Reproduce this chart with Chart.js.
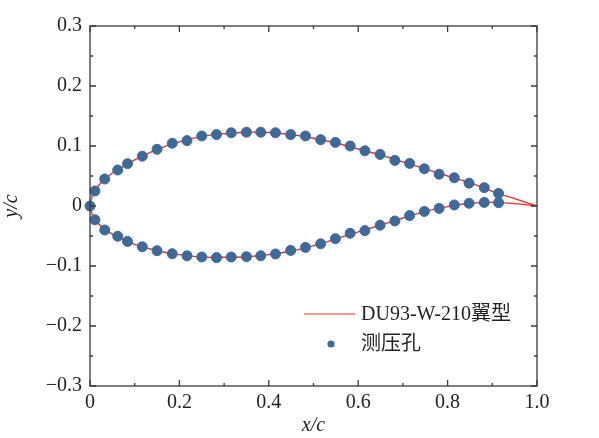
<!DOCTYPE html>
<html>
<head>
<meta charset="utf-8">
<script src="https://cdn.jsdelivr.net/npm/chart.js@4.4.1/dist/chart.umd.min.js"></script>
<style>
html,body{margin:0;padding:0;background:#fff;}
#wrap{width:599px;height:438px;position:relative;}
</style>
</head>
<body>
<div id="wrap"><canvas id="c" width="599" height="438"></canvas></div>
<script>
// ---- data ----
const tapUpperX = [0, 0.011, 0.033, 0.062, 0.084, 0.117, 0.150, 0.184, 0.217, 0.250, 0.283, 0.316, 0.350, 0.382, 0.415, 0.449, 0.482, 0.516, 0.549, 0.582, 0.615, 0.649, 0.682, 0.715, 0.748, 0.781, 0.815, 0.848, 0.882, 0.914];
const tapUpperY = [0, 0.025, 0.045, 0.060, 0.0705, 0.083, 0.0945, 0.1045, 0.109, 0.1167, 0.119, 0.122, 0.123, 0.123, 0.122, 0.119, 0.1167, 0.1105, 0.106, 0.100, 0.092, 0.086, 0.076, 0.071, 0.062, 0.053, 0.047, 0.038, 0.0306, 0.021];
const tapLowerX = [0.011, 0.033, 0.062, 0.084, 0.117, 0.150, 0.184, 0.217, 0.250, 0.283, 0.316, 0.350, 0.382, 0.415, 0.449, 0.482, 0.516, 0.549, 0.582, 0.615, 0.649, 0.682, 0.715, 0.748, 0.781, 0.815, 0.848, 0.882, 0.914];
const tapLowerY = [-0.023, -0.040, -0.0505, -0.059, -0.068, -0.0745, -0.0795, -0.083, -0.085, -0.086, -0.085, -0.0845, -0.083, -0.080, -0.074, -0.069, -0.063, -0.0545, -0.0455, -0.041, -0.032, -0.025, -0.016, -0.009, -0.004, 0.0017, 0.0045, 0.006, 0.0055];

const foilX = [0, 0.005, 0.0125, 0.025, 0.05, 0.075, 0.1, 0.15, 0.2, 0.25, 0.3, 0.35, 0.4, 0.45, 0.5, 0.55, 0.6, 0.65, 0.7, 0.75, 0.8, 0.85, 0.9, 0.95, 1.0];
const foilUpperY = [0, 0.017, 0.027, 0.039, 0.055, 0.066, 0.077, 0.0945, 0.107, 0.116, 0.1205, 0.123, 0.1225, 0.119, 0.113, 0.105, 0.095, 0.085, 0.0735, 0.062, 0.050, 0.0385, 0.0245, 0.0122, 0];
const foilLowerY = [0, -0.014, -0.023, -0.034, -0.047, -0.056, -0.064, -0.0745, -0.081, -0.085, -0.0855, -0.0845, -0.081, -0.075, -0.066, -0.055, -0.043, -0.032, -0.020, -0.009, -0.001, 0.0045, 0.006, 0.004, 0];

const xTickValues = [0, 0.2, 0.4, 0.6, 0.8, 1.0];
const xTickLabels = ['0', '0.2', '0.4', '0.6', '0.8', '1.0'];
const xMinorValues = [0.1, 0.3, 0.5, 0.7, 0.9];
const yTickValues = [-0.3, -0.2, -0.1, 0, 0.1, 0.2, 0.3];
const yTickLabels = ['\u22120.3', '\u22120.2', '\u22120.1', '0', '0.1', '0.2', '0.3'];
const yMinorValues = [-0.25, -0.15, -0.05, 0.05, 0.15, 0.25];

const lineLabel = 'DU93-W-210翼型';
const pointLabel = '测压孔';

// ---- styles ----
const RED = '#e8312c';
const BLUE = '#3d6a98';
const TXT = '#231f20';
const FONT = '"Liberation Serif", "Noto Sans CJK SC", serif';
const FS = 20;

const zip = (xs, ys) => xs.map((x, i) => ({x, y: ys[i]}));
const tapPoints = zip(tapUpperX, tapUpperY).concat(zip(tapLowerX, tapLowerY));

const framePlugin = {
  id: 'frame',
  afterDatasetsDraw(chart) {
    const {ctx, chartArea: a, scales: {x, y}} = chart;
    ctx.save();
    ctx.strokeStyle = '#3a3a3a';
    ctx.lineWidth = 1.3;
    ctx.strokeRect(a.left, a.top, a.right - a.left, a.bottom - a.top);
    ctx.beginPath();
    const major = 6, minor = 3;
    xTickValues.forEach(v => { const p = x.getPixelForValue(v);
      ctx.moveTo(p, a.bottom); ctx.lineTo(p, a.bottom - major);
      ctx.moveTo(p, a.top); ctx.lineTo(p, a.top + major); });
    xMinorValues.forEach(v => { const p = x.getPixelForValue(v);
      ctx.moveTo(p, a.bottom); ctx.lineTo(p, a.bottom - minor);
      ctx.moveTo(p, a.top); ctx.lineTo(p, a.top + minor); });
    yTickValues.forEach(v => { const p = y.getPixelForValue(v);
      ctx.moveTo(a.left, p); ctx.lineTo(a.left + major, p);
      ctx.moveTo(a.right, p); ctx.lineTo(a.right - major, p); });
    yMinorValues.forEach(v => { const p = y.getPixelForValue(v);
      ctx.moveTo(a.left, p); ctx.lineTo(a.left + minor, p);
      ctx.moveTo(a.right, p); ctx.lineTo(a.right - minor, p); });
    ctx.stroke();

    // legend
    ctx.font = FS + 'px ' + FONT;
    ctx.fillStyle = TXT;
    ctx.textBaseline = 'middle';
    ctx.textAlign = 'left';
    ctx.strokeStyle = RED;
    ctx.lineWidth = 1.2;
    ctx.beginPath(); ctx.moveTo(304, 314); ctx.lineTo(355, 314); ctx.stroke();
    ctx.fillText(lineLabel, 361, 315);
    ctx.fillStyle = BLUE;
    ctx.beginPath(); ctx.arc(331, 344, 3.6, 0, Math.PI * 2); ctx.fill();
    ctx.fillStyle = TXT;
    ctx.fillText(pointLabel, 361, 345);
    ctx.restore();
  }
};

new Chart(document.getElementById('c'), {
  type: 'scatter',
  data: {
    datasets: [
      { label: pointLabel, data: tapPoints, backgroundColor: BLUE, borderColor: BLUE,
        pointRadius: 5, pointHoverRadius: 5, showLine: false, order: 0, clip: false },
      { label: lineLabel, data: zip(foilX, foilUpperY), borderColor: RED, borderWidth: 1.4,
        pointRadius: 0, showLine: true, tension: 0.35, order: 1, clip: false },
      { label: lineLabel, data: zip(foilX, foilLowerY), borderColor: RED, borderWidth: 1.4,
        pointRadius: 0, showLine: true, tension: 0.35, order: 1, clip: false }
    ]
  },
  options: {
    responsive: false,
    animation: false,
    devicePixelRatio: 1,
    layout: { padding: { left: 0, right: 62, top: 26, bottom: 0 } },
    plugins: { legend: { display: false }, tooltip: { enabled: false } },
    scales: {
      x: {
        type: 'linear', min: 0, max: 1,
        afterBuildTicks: s => { s.ticks = xTickValues.map(v => ({value: v})); },
        afterFit: s => { s.height = 52; },
        grid: { display: false, drawTicks: false },
        border: { display: false },
        ticks: { color: TXT, font: { family: FONT, size: FS }, padding: 5, maxRotation: 0, autoSkip: false,
          callback: (v) => { const i = xTickValues.indexOf(v); return i >= 0 ? xTickLabels[i] : ''; } },
        title: { display: true, text: 'x/c', color: TXT, font: { family: FONT, size: FS, style: 'italic' }, padding: { top: 0, bottom: 0 } }
      },
      y: {
        type: 'linear', min: -0.3, max: 0.3,
        afterBuildTicks: s => { s.ticks = yTickValues.map(v => ({value: v})); },
        afterFit: s => { s.width = 90; },
        grid: { display: false, drawTicks: false },
        border: { display: false },
        ticks: { color: TXT, font: { family: FONT, size: FS }, padding: 8, autoSkip: false,
          callback: (v) => { const i = yTickValues.findIndex(t => Math.abs(t - v) < 1e-9); return i >= 0 ? yTickLabels[i] : ''; } },
        title: { display: true, text: 'y/c', color: TXT, font: { family: FONT, size: FS, style: 'italic' }, padding: { top: 0, bottom: 0 } }
      }
    }
  },
  plugins: [framePlugin]
});
</script>
</body>
</html>
